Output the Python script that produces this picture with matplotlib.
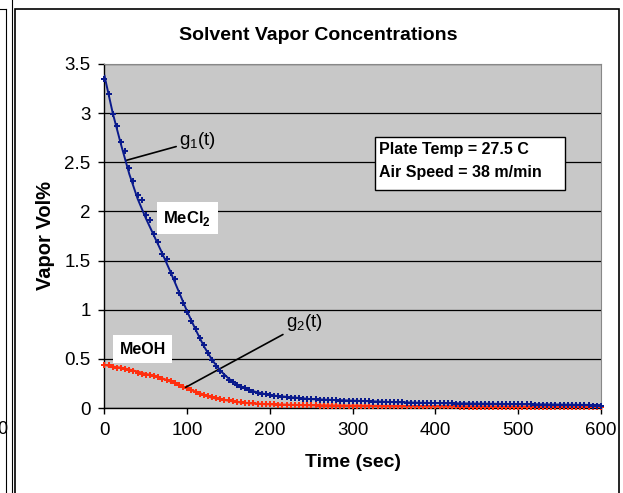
import matplotlib
matplotlib.use('Agg')
import matplotlib.pyplot as plt
from matplotlib.lines import Line2D
from matplotlib.patches import Rectangle

plt.rcParams['font.family'] = ['Liberation Sans', 'DejaVu Sans']
plt.rcParams['mathtext.fontset'] = 'custom'
plt.rcParams['mathtext.rm'] = 'Liberation Sans'
plt.rcParams['mathtext.bf'] = 'Liberation Sans:bold'

# Measured points (every 5 s)
time_s = list(range(0, 605, 5))
mecl2 = [3.35, 3.19, 2.99, 2.87, 2.71, 2.61, 2.44, 2.31, 2.17, 2.12,
         1.96, 1.91, 1.77, 1.69, 1.57, 1.52, 1.37, 1.31, 1.17, 1.07,
         0.98, 0.89, 0.80, 0.71, 0.64, 0.56, 0.49, 0.43, 0.38, 0.33,
         0.29, 0.26, 0.23, 0.215, 0.20, 0.18, 0.165, 0.155, 0.145, 0.14,
         0.13, 0.125, 0.12, 0.115, 0.11, 0.105, 0.10, 0.10, 0.095, 0.095,
         0.09, 0.09, 0.085, 0.085, 0.08, 0.08, 0.08, 0.075, 0.075, 0.075,
         0.075, 0.07, 0.07, 0.07, 0.07, 0.065, 0.065, 0.065, 0.06, 0.06,
         0.06, 0.06, 0.06, 0.055, 0.055, 0.055, 0.055, 0.055, 0.05, 0.05,
         0.05, 0.05, 0.05, 0.05, 0.05, 0.045, 0.045, 0.045, 0.045, 0.045,
         0.045, 0.045, 0.045, 0.04, 0.04, 0.04, 0.04, 0.04, 0.04, 0.04,
         0.04, 0.04, 0.04, 0.04, 0.035, 0.035, 0.035, 0.035, 0.035, 0.035,
         0.035, 0.035, 0.03, 0.03, 0.03, 0.03, 0.03, 0.03, 0.025, 0.025, 0.025]
meoh = [0.44, 0.44, 0.42, 0.41, 0.41, 0.40, 0.39, 0.38, 0.36, 0.35,
        0.34, 0.34, 0.33, 0.32, 0.30, 0.28, 0.27, 0.25, 0.23, 0.21,
        0.20, 0.18, 0.16, 0.145, 0.13, 0.12, 0.11, 0.10, 0.09, 0.085,
        0.08, 0.07, 0.065, 0.06, 0.055, 0.05, 0.05, 0.045, 0.045, 0.04,
        0.04, 0.04, 0.035, 0.035, 0.035, 0.035, 0.03, 0.03, 0.03, 0.03,
        0.03, 0.03, 0.025, 0.025, 0.025, 0.025, 0.025, 0.025, 0.025, 0.025,
        0.025, 0.02, 0.02, 0.02, 0.02, 0.02, 0.02, 0.02, 0.02, 0.02,
        0.02, 0.02, 0.02, 0.02, 0.02, 0.02, 0.02, 0.02, 0.02, 0.02,
        0.02, 0.02, 0.02, 0.02, 0.02, 0.02, 0.015, 0.015, 0.015, 0.015,
        0.015, 0.015, 0.015, 0.015, 0.015, 0.015, 0.015, 0.015, 0.015, 0.015,
        0.015, 0.015, 0.015, 0.015, 0.015, 0.015, 0.015, 0.015, 0.015, 0.015,
        0.01, 0.01, 0.01, 0.01, 0.01, 0.01, 0.01, 0.01, 0.01, 0.01, 0.01]

# Fitted curves g1(t), g2(t)
fit_t = [0, 10, 20, 30, 40, 50, 60, 70, 80, 90, 100, 110, 120, 130, 140,
         150, 160, 170, 180, 190, 200, 225, 250, 300, 350, 400, 450, 500, 550, 600]
g1 = [3.38, 3.0, 2.68, 2.38, 2.13, 1.93, 1.75, 1.57, 1.38, 1.18, 0.98, 0.80,
      0.63, 0.49, 0.38, 0.30, 0.24, 0.20, 0.17, 0.15, 0.13, 0.11, 0.09, 0.075,
      0.06, 0.05, 0.045, 0.04, 0.035, 0.03]
g2 = [0.44, 0.42, 0.41, 0.39, 0.37, 0.345, 0.33, 0.30, 0.27, 0.235, 0.20,
      0.165, 0.135, 0.105, 0.09, 0.075, 0.062, 0.052, 0.046, 0.041, 0.038,
      0.032, 0.028, 0.023, 0.02, 0.018, 0.016, 0.015, 0.013, 0.012]

info_lines = ['Plate Temp = 27.5 C', 'Air Speed = 38 m/min']

blue = '#0a1a8c'
red = '#ff3010'

fig = plt.figure(figsize=(6.23, 4.93), dpi=100)
ax = fig.add_axes([0.1677, 0.1724, 0.7970, 0.6978])
ax.set_facecolor('#c8c8c8')

ax.plot(time_s, meoh, 'P', color=red, ms=4.5, mew=0, clip_on=False, zorder=3)
ax.plot(fit_t, g2, '-', color=red, lw=1.6, zorder=3)
ax.plot(time_s, mecl2, 'P', color=blue, ms=4.5, mew=0, clip_on=False, zorder=4)
ax.plot(fit_t, g1, '-', color=blue, lw=1.4, zorder=4)

ax.set_xlim(0, 600)
ax.set_ylim(0, 3.5)
ax.set_xticks(range(0, 601, 100))
ax.set_yticks([0, 0.5, 1, 1.5, 2, 2.5, 3, 3.5])
ax.set_yticklabels(['0', '0.5', '1', '1.5', '2', '2.5', '3', '3.5'])
ax.tick_params(axis='both', labelsize=13.5, length=4, width=1, direction='out', pad=6)
ax.yaxis.grid(True, color='black', lw=0.9)
ax.set_axisbelow(True)
ax.spines['top'].set_color('#888888')
ax.spines['right'].set_color('#888888')
ax.spines['left'].set_linewidth(1)
ax.spines['bottom'].set_linewidth(1)

W, H = 623.0, 493.0
# title is centred on the whole chart area, not the plot area
fig.text(318 / W, 1 - 36 / H, 'Solvent Vapor Concentrations', fontsize=14,
         fontweight='bold', ha='center', va='center')
ax.set_xlabel('Time (sec)', fontsize=14, fontweight='bold', labelpad=11)
ax.set_ylabel('Vapor Vol%', fontsize=14.5, fontweight='bold', labelpad=7)

# annotations for the fitted curves
ax.annotate('g$_\\mathrm{1}$(t)', xy=(26.5, 2.52), xytext=(90, 2.72),
            fontsize=13.5, va='center', ha='left',
            arrowprops=dict(arrowstyle='-', color='black', lw=1.2, shrinkA=0, shrinkB=0))
ax.annotate('g$_\\mathrm{2}$(t)', xy=(98, 0.21), xytext=(219, 0.87),
            fontsize=13.5, va='center', ha='left',
            arrowprops=dict(arrowstyle='-', color='black', lw=1.2, shrinkA=0, shrinkB=0,
                            relpos=(0, 0)))

ax.text(100, 1.93, 'MeCl$_\\mathbf{2}$', fontsize=12, fontweight='bold', ha='center', va='center',
        bbox=dict(boxstyle='square,pad=0.4', fc='white', ec='none'), zorder=5)
ax.text(46, 0.6, 'MeOH', fontsize=11.5, fontweight='bold', ha='center', va='center',
        bbox=dict(boxstyle='square,pad=0.42', fc='white', ec='none'), zorder=5)

# info box
ax.add_patch(Rectangle((326.5, 2.22), 229.5, 0.54, fc='white', ec='black', lw=1, zorder=5))
ax.text(332, 2.625, info_lines[0], fontsize=11.5, fontweight='bold', ha='left', va='center', zorder=6)
ax.text(332, 2.40, info_lines[1], fontsize=11.5, fontweight='bold', ha='left', va='center', zorder=6)

# chart frame and the edge of the neighbouring chart
fig.add_artist(Rectangle((15 / W, -0.1), (619 - 15) / W, (H - 9) / H + 0.1,
                         transform=fig.transFigure, fill=False, ec='black', lw=1.2))
fig.add_artist(Line2D([12 / W, 12 / W], [0, 1], transform=fig.transFigure, color='black', lw=0.8))
fig.add_artist(Line2D([6 / W, 6 / W], [0, (H - 9) / H], transform=fig.transFigure, color='black', lw=0.8))
fig.add_artist(Line2D([0, 6 / W], [(H - 9) / H, (H - 9) / H], transform=fig.transFigure, color='black', lw=0.8))
fig.text(2 / W, 1 - 430 / H, '0', fontsize=13, ha='center', va='center')

fig.savefig('out.png', dpi=100)
